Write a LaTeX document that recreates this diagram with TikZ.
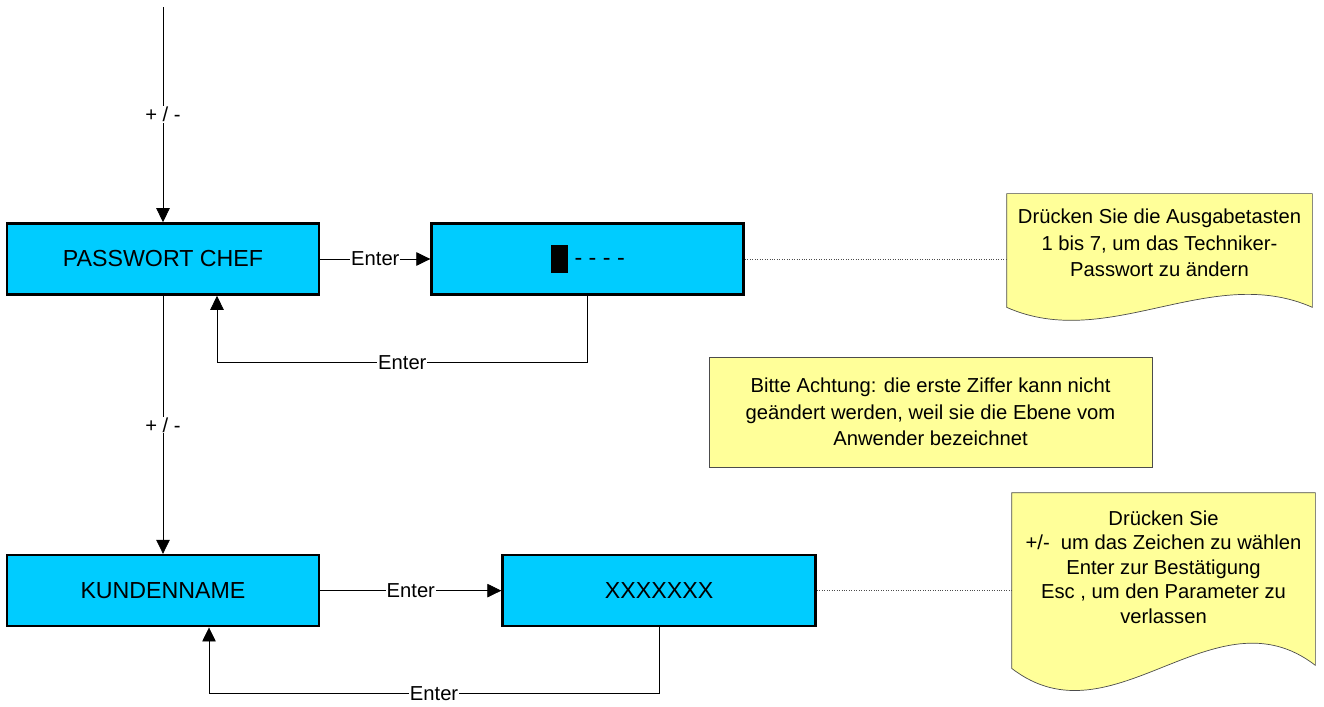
\documentclass[tikz,border=0pt]{standalone}
\usepackage{fontspec}
\setmainfont{Liberation Sans}
\usepackage{xcolor}
\usepackage{tikz}
\usetikzlibrary{arrows.meta,positioning,calc,backgrounds}
\definecolor{menucyan}{HTML}{00CCFF}
\definecolor{hintyellow}{HTML}{FFFF99}

\begin{document}
\begin{tikzpicture}[
  menu/.style={draw, line width=1.5pt, fill=menucyan, minimum width=6.24cm, minimum height=1.42cm, inner sep=0pt, font=\fontsize{13.2}{16}\selectfont},
  hint/.style={align=center, inner sep=0pt, font=\fontsize{11.5}{15}\selectfont},
  lbl/.style={fill=white, inner sep=0.5pt, font=\fontsize{11.5}{13}\selectfont},
  flow/.style={thin, -{Triangle[length=0.28cm,width=0.27cm]}},
  link/.style={thin, densely dotted, gray!60!black},
  sheet/.style={draw=gray!60!black, fill=hintyellow, thin},
]
\useasboundingbox (0,0) rectangle (26.48,-14.12);

% menu boxes
\node[menu] (pwchef) at (3.26,-5.18) {PASSWORT CHEF};
\node[menu, right=2.2cm of pwchef] (pwentry) {\rule[-0.16cm]{0.34cm}{0.56cm}\hspace{0.14cm}- - - -};
\node[menu, below=5.16cm of pwchef] (kunde) {KUNDENNAME};
\node[menu, right=3.62cm of kunde, minimum width=6.26cm] (kdentry) {XXXXXXX};

% hints
\node[hint, minimum width=6.1cm, minimum height=1.96cm] (hint1) at (23.19,-4.86)
  {Drücken Sie die Ausgabetasten\\1 bis 7, um das Techniker-\\Passwort zu ändern};
\node[hint, sheet, minimum width=8.86cm, minimum height=2.2cm] (hint2) at (18.61,-8.24)
  {Bitte Achtung: die erste Ziffer kann nicht\\geändert werden, weil sie die Ebene vom\\Anwender bezeichnet};
\node[hint, minimum width=6.06cm, minimum height=2.96cm, font=\fontsize{11.5}{14}\selectfont] (hint3) at (23.27,-11.34)
  {Drücken Sie\\+/-~~um das Zeichen zu wählen\\Enter zur Bestätigung\\Esc , um den Parameter zu\\verlassen};

\begin{scope}[on background layer]
\draw[sheet] (hint1.north west) -- (hint1.north east) -- ($(hint1.south east)+(0,-0.3)$)
  .. controls +(-2.03,0.9) and +(2.03,-0.9) .. ($(hint1.south west)+(0,-0.3)$) -- cycle;
\draw[sheet] (hint3.north west) -- (hint3.north east) -- ($(hint3.south east)+(0,-0.48)$)
  .. controls +(-2.02,1.56) and +(2.02,-1.56) .. ($(hint3.south west)+(0,-0.54)$) -- cycle;
\end{scope}

% connectors
\coordinate (top) at ($(pwchef.north)+(0,4.3)$);
\draw[flow] (top) -- node[lbl] {+ / -} (pwchef.north);
\draw[flow] (pwchef) -- node[lbl] {Enter} (pwentry);
\draw[flow] (pwentry.south) -- ++(0,-1.34) -| node[lbl, pos=0.25] {Enter} ([xshift=1.08cm]pwchef.south);
\draw[flow] (pwchef.south) -- node[lbl] {+ / -} (kunde.north);
\draw[flow] (kunde) -- node[lbl] {Enter} (kdentry);
\draw[flow] (kdentry.south) -- ++(0,-1.32) -| node[lbl, pos=0.25] {Enter} ([xshift=0.92cm]kunde.south);

\draw[link] (pwentry.east) -- (pwentry.east -| hint1.west);
\draw[link] (kdentry.east) -- (kdentry.east -| hint3.west);
\end{tikzpicture}
\end{document}
